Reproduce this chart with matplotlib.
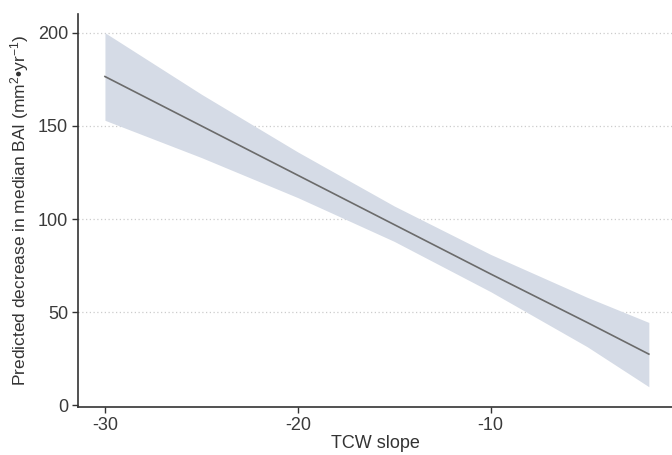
import matplotlib
matplotlib.use("Agg")
import matplotlib.pyplot as plt

# ------------------------------------------------------------------
# Data (fitted line + confidence band)
# ------------------------------------------------------------------
tcw_slope = [-30, -25, -20, -15, -10, -5, -1.8]
fit = [176.5, 150, 123.5, 97, 70.5, 44.5, 27.5]
upper = [200, 167, 136, 107, 81, 58, 44.5]
lower = [153, 133, 111.5, 88, 61, 31.5, 10]

x_ticks = [-30, -20, -10]
y_ticks = [0, 50, 100, 150, 200]

plt.rcParams['font.family'] = ['Liberation Sans', 'DejaVu Sans']
plt.rcParams['mathtext.fontset'] = 'custom'
plt.rcParams['mathtext.rm'] = 'Liberation Sans'
plt.rcParams['mathtext.it'] = 'Liberation Sans'

fig = plt.figure(figsize=(6.72, 4.55), dpi=100)
ax = fig.add_axes([0.116, 0.105, 0.884, 0.864])

# horizontal dotted grid
for yv in y_ticks[1:]:
    ax.axhline(yv, color='#cccccc', lw=0.9, ls=(0, (1, 2)), zorder=0)

ax.fill_between(tcw_slope, lower, upper, color='#d5dbe6', lw=0, zorder=1)
ax.plot(tcw_slope, fit, color='#6b6b6b', lw=1.2, zorder=2)

ax.set_xlim(-31.4, -0.6)
ax.set_ylim(-1, 210)
ax.set_xticks(x_ticks)
ax.set_yticks(y_ticks)
ax.set_xticklabels([str(v) for v in x_ticks])

for side in ('top', 'right'):
    ax.spines[side].set_visible(False)
for side in ('left', 'bottom'):
    ax.spines[side].set_color('#333333')
    ax.spines[side].set_linewidth(1.2)

ax.tick_params(axis='both', direction='out', length=4, width=1.0,
               color='#333333', labelsize=13, labelcolor='#3a3a3a', pad=3)

ax.set_xlabel('TCW slope', fontsize=13, color='#333333', labelpad=1)
ax.set_ylabel(r'Predicted decrease in median BAI (mm$^{2}$•yr$^{-1}$)',
              fontsize=12.5, color='#333333', labelpad=5)

fig.savefig('out.png', dpi=100)
